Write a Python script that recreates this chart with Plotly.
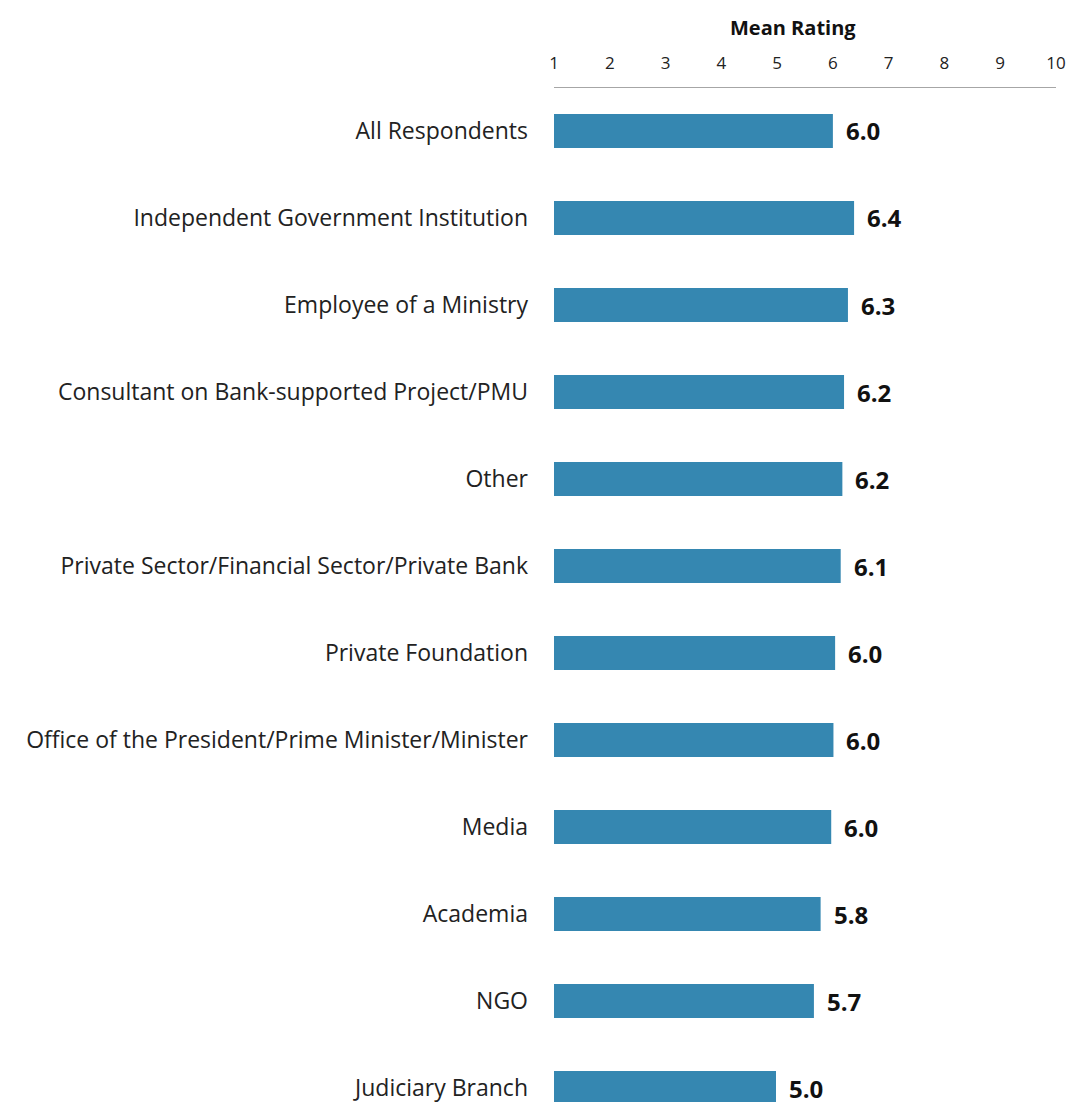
import plotly.graph_objects as go

categories = [
    "All Respondents",
    "Independent Government Institution",
    "Employee of a Ministry",
    "Consultant on Bank-supported Project/PMU",
    "Other",
    "Private Sector/Financial Sector/Private Bank",
    "Private Foundation",
    "Office of the President/Prime Minister/Minister",
    "Media",
    "Academia",
    "NGO",
    "Judiciary Branch",
]
mean_rating = [6.00, 6.38, 6.27, 6.20, 6.17, 6.14, 6.04, 6.01, 5.97, 5.78, 5.66, 4.98]
x_ticks = [1, 2, 3, 4, 5, 6, 7, 8, 9, 10]

FONT = "Open Sans"
BAR_COLOR = "#3587B1"

fig = go.Figure()
fig.add_trace(go.Bar(
    x=mean_rating,
    y=categories,
    orientation="h",
    marker=dict(color=BAR_COLOR, line=dict(width=0)),
    hoverinfo="skip",
))

annotations = []
for cat, val in zip(categories, mean_rating):
    annotations.append(dict(
        x=val, y=cat, xref="x", yref="y",
        text=f"<b>{val:.1f}</b>",
        showarrow=False, xanchor="left", yanchor="middle",
        xshift=11,
        font=dict(family=FONT, size=24, color="#111111"),
    ))
annotations.append(dict(
    x=0.476, y=1, xref="paper", yref="paper",
    text="<b>Mean Rating</b>", showarrow=False,
    xanchor="center", yanchor="middle", yshift=61,
    font=dict(family=FONT, size=20, color="#111111"),
))

fig.update_layout(
    width=1072,
    height=1102,
    margin=dict(l=554, r=16, t=88, b=0),
    paper_bgcolor="white",
    plot_bgcolor="white",
    showlegend=False,
    bargap=0.61,
    annotations=annotations,
    xaxis=dict(
        side="top",
        range=[1, 10],
        tickvals=x_ticks,
        ticktext=[str(t) for t in x_ticks],
        showgrid=False,
        zeroline=False,
        showline=True,
        linecolor="#A6A6A6",
        linewidth=1.3,
        ticks="",
        ticklabelstandoff=11,
        tickfont=dict(family=FONT, size=17, color="#222222"),
    ),
    yaxis=dict(
        categoryorder="array",
        categoryarray=categories,
        range=[11.16, -0.494],
        showgrid=False,
        zeroline=False,
        showline=False,
        ticks="",
        ticklabelstandoff=25,
        tickfont=dict(family=FONT, size=23, color="#222222"),
    ),
)

fig.write_html(
    "out.html",
    config={"displayModeBar": False},
    post_script="document.body.style.margin='0';document.body.style.overflow='hidden';",
)
